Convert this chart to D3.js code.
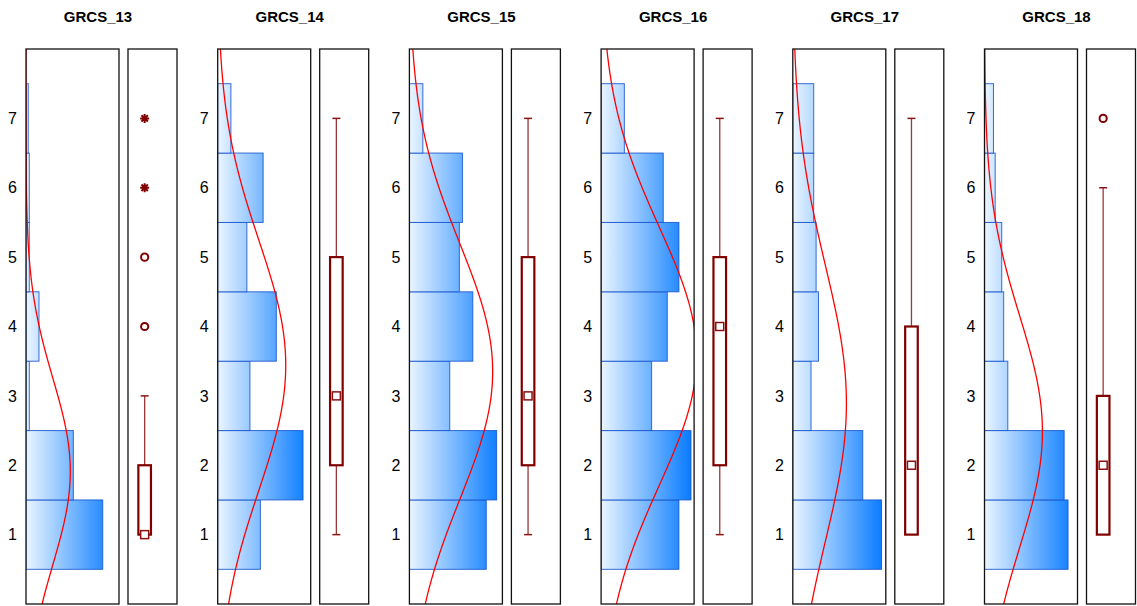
<!DOCTYPE html>
<html><head><meta charset="utf-8">
<script src="https://cdn.jsdelivr.net/npm/d3@7"></script>
<style>body{margin:0;background:#fff} svg{display:block}</style>
</head><body><svg id="c" width="1137" height="606"></svg>
<script>
// ---------- data ----------
const groups = ["GRCS_13","GRCS_14","GRCS_15","GRCS_16","GRCS_17","GRCS_18"];
const bins = [1,2,3,4,5,6,7];
const tickValues = [1,2,3,4,5,6,7];
// percent of respondents per answer value (1..7)
const pct13 = [51.4, 31.7, 2.2, 8.7, 2.2, 2.2, 1.5];
const pct14 = [13.9, 27.8, 10.5, 19.1, 9.5, 14.8, 4.3];
const pct15 = [20.0, 22.7, 10.5, 16.5, 13.0, 13.8, 3.5];
const pct16 = [17.4, 20.1, 11.3, 14.8, 17.4, 13.9, 5.2];
const pct17 = [33.1, 26.1, 6.8, 9.6, 8.7, 7.8, 7.8];
const pct18 = [34.4, 32.8, 9.6, 7.9, 7.1, 4.4, 3.7];
const histPct = [pct13, pct14, pct15, pct16, pct17, pct18];
// count-axis maximum of each histogram panel (percent)
const countAxisMax = [62.3, 30.3, 24.2, 20.8, 34.7, 38.3];
// box statistics
const boxQ1 = [1, 2, 2, 2, 1, 1];
const boxMedian = [1, 3, 3, 4, 2, 2];
const boxQ3 = [2, 5, 5, 5, 4, 3];
const whiskerLow = [1, 1, 1, 1, 1, 1];
const whiskerHigh = [3, 7, 7, 7, 7, 6];
const outlierCircles = [[4, 5], [], [], [], [], [7]];
const outlierStars = [[6, 7], [], [], [], [], []];
const valueDomain = [0, 8];

// ---------- layout ----------
const left0 = 26, step = 191.7, histW = 93, boxOff = 102, boxW = 49;
const plotTop = 49, plotBottom = 604;
const svg = d3.select("#c");
const font = "'Liberation Sans', Arial, Helvetica, sans-serif";

const y = d3.scaleLinear().domain(valueDomain).range([plotBottom, plotTop]);
const gx = d3.scaleBand().domain(groups).range([left0, left0 + step * groups.length]);

const defs = svg.append("defs");

groups.forEach((name, i) => {
  const g = svg.append("g").attr("transform", `translate(${gx(name)},0)`);
  const pct = histPct[i];
  const x = d3.scaleLinear().domain([0, countAxisMax[i]]).range([0, histW]);

  const gid = "grad" + i;
  const grad = defs.append("linearGradient").attr("id", gid)
    .attr("gradientUnits", "userSpaceOnUse")
    .attr("x1", 0).attr("x2", histW).attr("y1", 0).attr("y2", 0);
  grad.append("stop").attr("offset", "0%").attr("stop-color", "#eaf5ff");
  grad.append("stop").attr("offset", "100%").attr("stop-color", "#0077ff");

  const cid = "clip" + i;
  defs.append("clipPath").attr("id", cid).append("rect")
    .attr("x", 0).attr("y", plotTop).attr("width", histW).attr("height", plotBottom - plotTop);

  g.append("text").attr("x", 72).attr("y", 22).attr("text-anchor", "middle")
    .style("font-family", font).style("font-size", "15px").style("font-weight", "bold")
    .text(name);

  const ax = g.append("g").call(d3.axisLeft(y).tickValues(tickValues).tickSize(0).tickPadding(9).tickFormat(d3.format("d")));
  ax.select(".domain").remove();
  ax.selectAll("text").style("font-family", font).style("font-size", "16px").attr("fill", "#000");

  const hg = g.append("g").attr("clip-path", `url(#${cid})`);
  hg.selectAll("rect.bar").data(bins).join("rect").attr("class", "bar")
    .attr("x", 0)
    .attr("y", b => y(b + 0.5))
    .attr("width", (b, k) => x(pct[k]))
    .attr("height", b => y(b - 0.5) - y(b + 0.5))
    .attr("fill", `url(#${gid})`)
    .attr("stroke", "#1655cc").attr("stroke-opacity", 0.85).attr("stroke-width", 1);

  const total = d3.sum(pct);
  const mean = d3.sum(bins, (b, k) => b * pct[k]) / total;
  const sd = Math.sqrt(d3.sum(bins, (b, k) => (b - mean) ** 2 * pct[k]) / total);
  const vs = d3.range(valueDomain[0], valueDomain[1] + 0.001, 0.02);
  const dens = v => total * Math.exp(-0.5 * ((v - mean) / sd) ** 2) / (sd * Math.sqrt(2 * Math.PI));
  hg.append("path").datum(vs)
    .attr("d", d3.line().x(v => x(dens(v))).y(v => y(v)))
    .attr("fill", "none").attr("stroke", "#ff0000").attr("stroke-width", 1.3);

  g.append("rect").attr("x", 0).attr("y", plotTop).attr("width", histW).attr("height", plotBottom - plotTop)
    .attr("fill", "none").attr("stroke", "#111").attr("stroke-width", 1.3);
  const bg = g.append("g").attr("transform", `translate(${boxOff},0)`);
  bg.append("rect").attr("x", 0).attr("y", plotTop).attr("width", boxW).attr("height", plotBottom - plotTop)
    .attr("fill", "none").attr("stroke", "#111").attr("stroke-width", 1.3);

  const cx = boxW * 0.34;
  const red = "#800000";
  const wl = (a, b) => {
    bg.append("line").attr("x1", cx).attr("x2", cx).attr("y1", y(a)).attr("y2", y(b))
      .attr("stroke", "#8b1414").attr("stroke-opacity", 0.85).attr("stroke-width", 1.3);
    bg.append("line").attr("x1", cx - 4).attr("x2", cx + 4).attr("y1", y(b)).attr("y2", y(b))
      .attr("stroke", "#8b1414").attr("stroke-width", 1.5);
  };
  if (whiskerHigh[i] > boxQ3[i]) wl(boxQ3[i], whiskerHigh[i]);
  if (whiskerLow[i] < boxQ1[i]) wl(boxQ1[i], whiskerLow[i]);
  bg.append("rect").attr("x", cx - 6.3).attr("width", 12.6)
    .attr("y", y(boxQ3[i])).attr("height", y(boxQ1[i]) - y(boxQ3[i]))
    .attr("fill", "none").attr("stroke", red).attr("stroke-width", 2.2);
  bg.append("rect").attr("x", cx - 4).attr("width", 8)
    .attr("y", y(boxMedian[i]) - 4).attr("height", 8)
    .attr("fill", "#fff").attr("stroke", "#8b1010").attr("stroke-width", 1.5);
  bg.selectAll("circle.out").data(outlierCircles[i]).join("circle").attr("class", "out")
    .attr("cx", cx).attr("cy", v => y(v)).attr("r", 3.6)
    .attr("fill", "none").attr("stroke", red).attr("stroke-width", 2);
  const starPath = (() => {
    const r = 4.5, p = d3.path();
    [0, 45, 90, 135].forEach(a => {
      const t = a * Math.PI / 180;
      p.moveTo(-r * Math.cos(t), -r * Math.sin(t));
      p.lineTo(r * Math.cos(t), r * Math.sin(t));
    });
    return p.toString();
  })();
  bg.selectAll("path.star").data(outlierStars[i]).join("path").attr("class", "star")
    .attr("transform", v => `translate(${cx},${y(v)})`)
    .attr("d", starPath)
    .attr("fill", "none").attr("stroke", red).attr("stroke-width", 2);
});
</script></body></html>
